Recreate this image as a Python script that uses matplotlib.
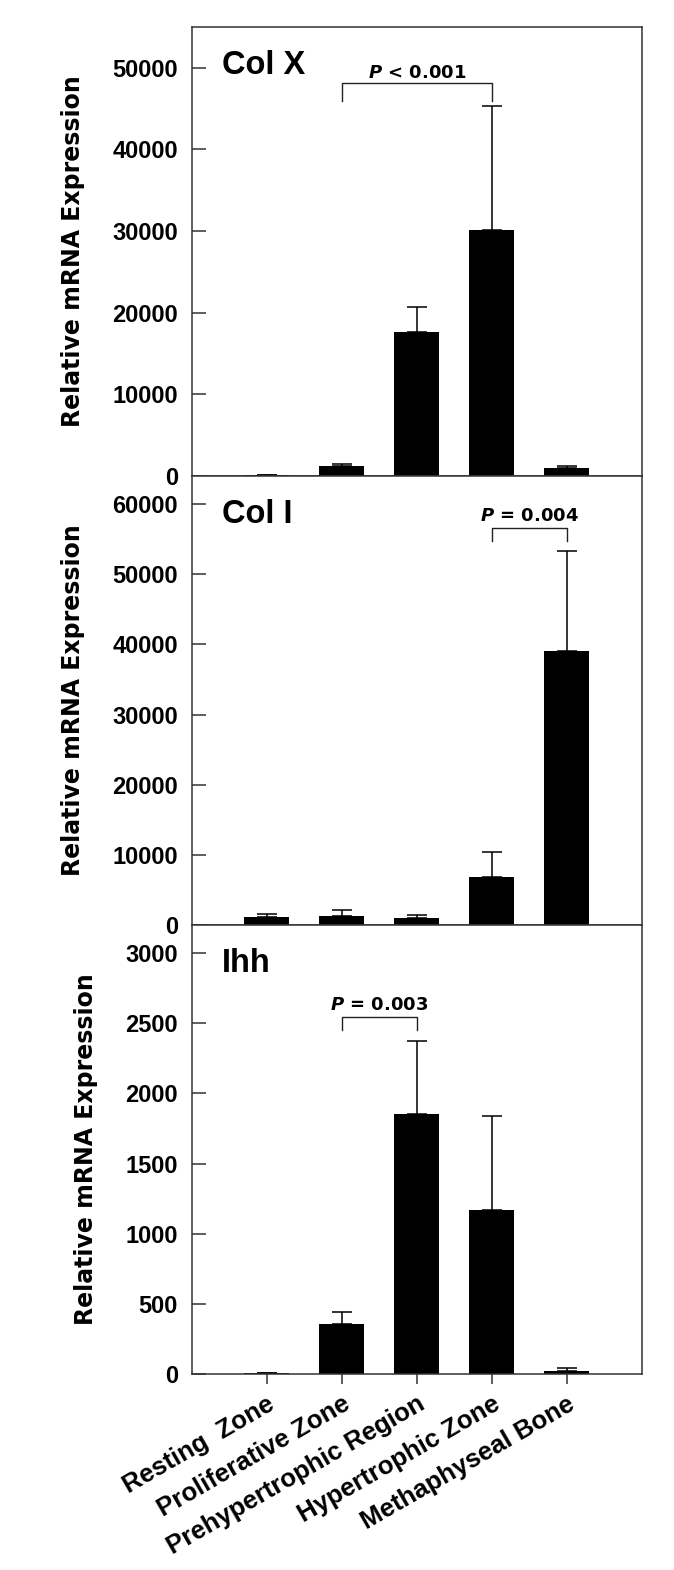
import matplotlib
matplotlib.use("Agg")
import matplotlib.pyplot as plt
import numpy as np

# categories along the growth plate
zones = ["Resting  Zone", "Proliferative Zone", "Prehypertrophic Region",
         "Hypertrophic Zone", "Methaphyseal Bone"]

# Col X
colx_mean = [100, 1250, 17600, 30100, 950]
colx_err = [0, 230, 3150, 15200, 300]

# Col I
col1_mean = [1200, 1300, 1000, 6800, 39100]
col1_err = [420, 800, 450, 3600, 14200]

# Ihh
ihh_mean = [10, 355, 1856, 1170, 22]
ihh_err = [0, 88, 520, 668, 18]

# panel settings
titles = ["Col X", "Col I", "Ihh"]
ymax = [55000, 64000, 3200]
ystep = [10000, 10000, 500]
ytop_tick = [50000, 60000, 3000]

# significance brackets: (bar i, bar j, bracket height, leg bottom, label)
brackets = [
    (2, 4, 48100, 45900, r"$P$ < 0.001"),
    (4, 5, 56600, 54700, r"$P$ = 0.004"),
    (2, 3, 2544, 2452, r"$P$ = 0.003"),
]
label_gap = [700, 1000, 50]

plt.rcParams["mathtext.fontset"] = "custom"
plt.rcParams["mathtext.it"] = "DejaVu Sans:italic:bold"
plt.rcParams["mathtext.rm"] = "DejaVu Sans:bold"

fig = plt.figure(figsize=(6.74, 15.7), dpi=100)

left, width, height = 192 / 674, 450 / 674, 449 / 1570
bottoms = [(1570 - 476) / 1570, (1570 - 925) / 1570, (1570 - 1374) / 1570]

x = np.arange(1, len(zones) + 1)
means = [colx_mean, col1_mean, ihh_mean]
errs = [colx_err, col1_err, ihh_err]

for k in range(3):
    ax = fig.add_axes([left, bottoms[k], width, height])
    ax.bar(x, means[k], width=0.6, color="black", edgecolor="none", zorder=2)
    ax.errorbar(x, means[k], yerr=[np.zeros(len(x)), errs[k]], fmt="none",
                ecolor="black", elinewidth=1.1, capsize=7.5, capthick=1.1, zorder=1)

    ax.set_xlim(0, 6)
    ax.set_ylim(0, ymax[k])
    ax.set_yticks(np.arange(0, ytop_tick[k] + 1, ystep[k]))
    ax.tick_params(axis="y", direction="in", length=10, width=1.1, pad=10,
                   labelsize=17, color="#333333")
    for lab in ax.get_yticklabels():
        lab.set_fontfamily("Liberation Sans")
        lab.set_fontweight("bold")

    for sp in ax.spines.values():
        sp.set_linewidth(1.1)
        sp.set_color("#333333")

    ax.set_ylabel("Relative mRNA Expression", fontsize=17, fontweight="bold",
                  family="DejaVu Sans", labelpad=20)

    ax.text(0.067, 0.895, titles[k], transform=ax.transAxes, fontsize=23.5,
            fontweight="bold", family="Liberation Sans", ha="left", va="baseline")

    i, j, h, leg, txt = brackets[k]
    ax.plot([i, i, j, j], [leg, h, h, leg], color="#222222", lw=1.0, zorder=3)
    ax.text((i + j) / 2, h + label_gap[k], txt, ha="center", va="baseline",
            fontsize=13, fontweight="bold", family="DejaVu Sans")

    if k < 2:
        ax.set_xticks([])
    else:
        ax.set_xticks(x)
        ax.tick_params(axis="x", direction="out", length=7, width=1.1, pad=6,
                       color="#333333")
        ax.set_xticklabels(zones, rotation=30, ha="right", va="top",
                           rotation_mode="anchor", fontsize=18.5,
                           fontweight="bold", family="Liberation Sans")

fig.savefig("out.png", dpi=100)
